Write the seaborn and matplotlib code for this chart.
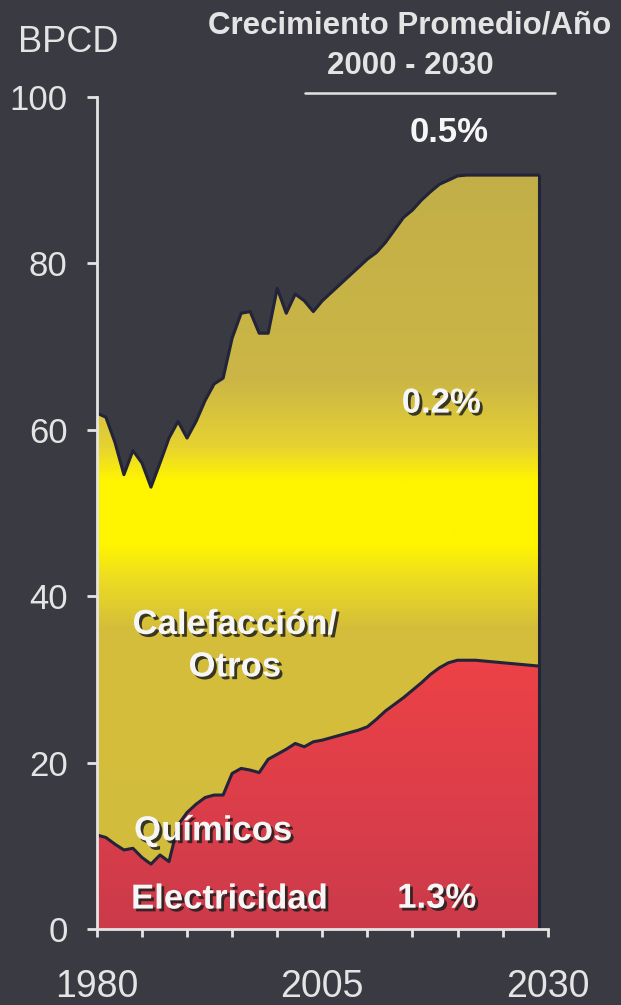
import matplotlib
matplotlib.use("Agg")
import matplotlib.pyplot as plt
import matplotlib.patheffects as pe
from matplotlib.colors import LinearSegmentedColormap
import numpy as np
import pandas as pd
import seaborn as sns


# Data (BPCD, 1980-2029)
years = list(range(1980, 2030))
total = [62.0, 61.5, 58.5, 54.6, 57.5, 56.0, 53.1, 56.0, 59.0, 61.0,
         59.0, 61.0, 63.5, 65.5, 66.2, 71.0, 74.0, 74.2, 71.6, 71.6,
         77.0, 74.0, 76.3, 75.5, 74.2, 75.5, 76.5, 77.5, 78.5, 79.5,
         80.5, 81.3, 82.5, 84.0, 85.5, 86.4, 87.6, 88.6, 89.5, 90.0,
         90.5, 90.6, 90.6, 90.6, 90.6, 90.6, 90.6, 90.6, 90.6, 90.6]
electricidad_quimicos = [11.3, 11.0, 10.2, 9.5, 9.7, 8.6, 7.8, 8.9, 8.1, 12.5,
                         14.0, 15.0, 15.8, 16.1, 16.1, 18.7, 19.3, 19.1, 18.8, 20.4,
                         21.0, 21.6, 22.3, 21.9, 22.5, 22.7, 23.0, 23.3, 23.6, 23.9,
                         24.3, 25.2, 26.2, 27.0, 27.8, 28.7, 29.6, 30.6, 31.4, 32.0,
                         32.3, 32.3, 32.3, 32.2, 32.1, 32.0, 31.9, 31.8, 31.7, 31.6]

x_ticks = [1980, 1985, 1990, 1995, 2000, 2005, 2010, 2015, 2020, 2025, 2030]
x_tick_labels = ["1980", "", "", "", "", "2005", "", "", "", "", "2030"]
y_ticks = [0, 20, 40, 60, 80, 100]

# Growth rates 2000-2030 and area labels
growth_labels = ["0.5%", "0.2%", "1.3%"]
area_labels = ["Calefacción/", "Otros", "Químicos", "Electricidad"]

df = pd.DataFrame({"year": years, "total": total, "rojo": electricidad_quimicos})

BG = "#3a3a42"
FG = "#e4e4e4"
EDGE = "#23233a"

sns.set_theme(style="dark", rc={
    "axes.facecolor": BG,
    "figure.facecolor": BG,
    "xtick.bottom": True,
    "ytick.left": True,
})
plt.rcParams['font.family'] = ['Liberation Sans', 'DejaVu Sans']

fig = plt.figure(figsize=(6.21, 10.05), dpi=100)
ax = fig.add_axes([0.156, 0.0756, 0.726, 0.828])
ax.set_facecolor(BG)

# Gradient colour maps (position = value / 100)
yellow_cmap = LinearSegmentedColormap.from_list("amarillo", [
    (0.00, "#d2bc3c"), (0.36, "#d4be3a"), (0.42, "#ecdc22"), (0.46, "#fff500"),
    (0.54, "#fff500"), (0.58, "#e6d232"), (0.66, "#cbb646"), (1.00, "#bfac48")])
red_cmap = LinearSegmentedColormap.from_list("rojo", [
    (0.00, "#cc3a4a"), (0.15, "#dc3e4a"), (0.33, "#ee4246"), (1.00, "#ee4246")])

grad = np.linspace(0, 100, 500).reshape(-1, 1)

# Yellow area: Calefacción / Otros
poly_y = ax.fill_between(df["year"], df["rojo"], df["total"], facecolor="none", linewidth=0)
im_y = ax.imshow(grad, cmap=yellow_cmap, extent=[1980, 2030, 0, 100],
                 origin="lower", aspect="auto", zorder=1, interpolation="bilinear")
im_y.set_clip_path(poly_y.get_paths()[0], transform=ax.transData)

# Red area: Electricidad + Químicos
poly_r = ax.fill_between(df["year"], 0, df["rojo"], facecolor="none", linewidth=0)
im_r = ax.imshow(grad, cmap=red_cmap, extent=[1980, 2030, 0, 100],
                 origin="lower", aspect="auto", zorder=1, interpolation="bilinear")
im_r.set_clip_path(poly_r.get_paths()[0], transform=ax.transData)

# Dark outlines of the areas
sns.lineplot(data=df, x="year", y="total", color=EDGE, linewidth=2.2, ax=ax, zorder=3)
sns.lineplot(data=df, x="year", y="rojo", color=EDGE, linewidth=2.2, ax=ax, zorder=3)
ax.vlines(years[-1], 0, total[-1], color=EDGE, linewidth=2.2, zorder=3)

ax.set_xlim(1980, 2030)
ax.set_ylim(0, 100)
ax.set_xticks(x_ticks)
ax.set_xticklabels(x_tick_labels)
ax.set_yticks(y_ticks)
ax.set_xlabel("")
ax.set_ylabel("")
ax.grid(False)

for side in ["top", "right"]:
    ax.spines[side].set_visible(False)
for side in ["left", "bottom"]:
    ax.spines[side].set_visible(True)
    ax.spines[side].set_color(FG)
    ax.spines[side].set_linewidth(2)
    ax.spines[side].set_zorder(4)

ax.tick_params(axis="y", colors=FG, labelsize=25, length=7, width=2, pad=14, direction="out")
ax.tick_params(axis="x", colors=FG, labelsize=27, length=6, width=2, pad=23, direction="out")

# Header texts
fig.text(18 / 621, 1 - 43 / 1005, "BPCD", color=FG, fontsize=26, va="center", ha="left")
fig.text(410 / 621, 1 - 25 / 1005, "Crecimiento Promedio/Año", color=FG, fontsize=22.5,
         fontweight="bold", va="center", ha="center")
fig.text(410 / 621, 1 - 66 / 1005, "2000 - 2030", color=FG, fontsize=22.5,
         fontweight="bold", va="center", ha="center")
fig.add_artist(plt.Line2D([305 / 621, 555 / 621], [1 - 93 / 1005, 1 - 93 / 1005],
                          color=FG, linewidth=1.8))

shadow = [pe.withSimplePatchShadow(offset=(2, -2), shadow_rgbFace="#1e1e1e", alpha=0.85)]
txt = dict(color="#f6f6f6", fontsize=25, fontweight="bold", ha="center", va="center")

ax.text(2019.1, 95.7, growth_labels[0], **txt)
ax.text(2018.2, 63.2, growth_labels[1], path_effects=shadow, **txt)
ax.text(2017.7, 3.7, growth_labels[2], path_effects=shadow, **txt)
ax.text(1995.3, 36.6, area_labels[0], path_effects=shadow, **txt)
ax.text(1995.3, 31.5, area_labels[1], path_effects=shadow, **txt)
ax.text(1992.9, 11.8, area_labels[2], path_effects=shadow, **txt)
ax.text(1994.7, 3.6, area_labels[3], path_effects=shadow, **txt)

fig.savefig("out.png", dpi=100, facecolor=BG)
